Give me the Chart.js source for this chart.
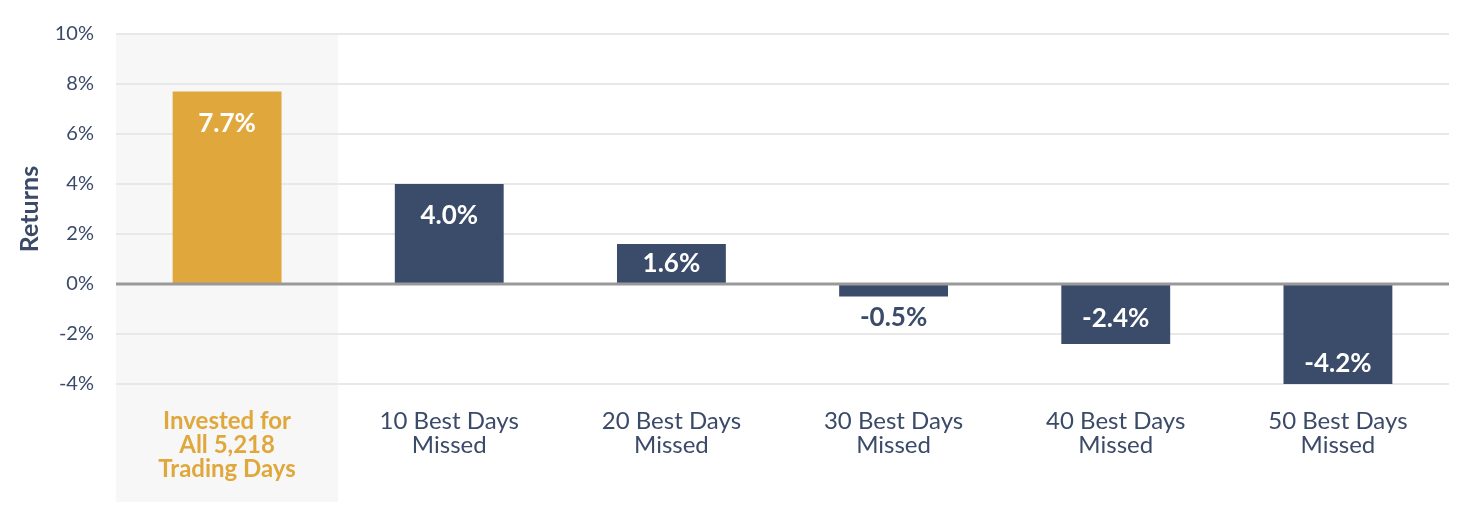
<!DOCTYPE html>
<html>
<head>
<meta charset="utf-8">
<script src="https://cdn.jsdelivr.net/npm/chart.js@4.4.0/dist/chart.umd.min.js"></script>
<style>
  body { margin: 0; background: #fff; }
  #wrap { width: 1463px; height: 522px; position: relative; }
</style>
</head>
<body>
<div id="wrap"><canvas id="myChart"></canvas></div>
<script>
const categories = [
  ['Invested for', 'All 5,218', 'Trading Days'],
  ['10 Best Days', 'Missed'],
  ['20 Best Days', 'Missed'],
  ['30 Best Days', 'Missed'],
  ['40 Best Days', 'Missed'],
  ['50 Best Days', 'Missed']
];
const returns = [7.7, 4.0, 1.6, -0.5, -2.4, -4.2];
const yTicks = [-4, -2, 0, 2, 4, 6, 8, 10];

const gold = '#e0a83c';
const navy = '#3a4c69';
const textNavy = '#3b4a68';
const fontFamily = 'Lato, "Open Sans", sans-serif';

// grey band behind the first category
const bandPlugin = {
  id: 'band',
  beforeDraw(chart) {
    const x = chart.scales.x;
    const ctx = chart.ctx;
    const half = (x.getPixelForTick(1) - x.getPixelForTick(0)) / 2;
    const left = x.getPixelForTick(0) - half;
    ctx.save();
    ctx.fillStyle = '#f7f7f7';
    ctx.fillRect(left, chart.chartArea.top, half * 2, chart.height - 20 - chart.chartArea.top);
    ctx.restore();
  }
};

// zero line on top of the bars + value labels
const labelPlugin = {
  id: 'valueLabels',
  afterDatasetsDraw(chart) {
    const ctx = chart.ctx;
    const y = chart.scales.y;
    const area = chart.chartArea;
    const zero = y.getPixelForValue(0);
    ctx.save();
    ctx.strokeStyle = '#999999';
    ctx.lineWidth = 3;
    ctx.beginPath();
    ctx.moveTo(area.left, zero);
    ctx.lineTo(area.right, zero);
    ctx.stroke();

    ctx.font = 'bold 26px ' + fontFamily;
    ctx.textAlign = 'center';
    ctx.textBaseline = 'middle';
    const meta = chart.getDatasetMeta(0);
    meta.data.forEach((bar, i) => {
      const v = returns[i];
      const top = Math.min(bar.y, bar.base);
      const bottom = Math.max(bar.y, bar.base);
      const h = bottom - top;
      let ty, color = '#ffffff';
      if (v >= 0) {
        ty = h > 64 ? top + 32 : top + h / 2;
      } else if (h > 50) {
        ty = bottom - 25;
      } else {
        ty = bottom + 21;
        color = navy;
      }
      ctx.fillStyle = color;
      ctx.fillText(v.toFixed(1) + '%', bar.x, ty);
    });
    ctx.restore();
  }
};

new Chart(document.getElementById('myChart'), {
  type: 'bar',
  data: {
    labels: categories,
    datasets: [{
      data: returns,
      backgroundColor: returns.map((v, i) => i === 0 ? gold : navy),
      borderWidth: 0,
      categoryPercentage: 1,
      barPercentage: 0.49
    }]
  },
  options: {
    responsive: true,
    maintainAspectRatio: false,
    animation: false,
    layout: { padding: { left: 0, right: 14, top: 22, bottom: 24 } },
    plugins: {
      legend: { display: false },
      tooltip: { enabled: false }
    },
    scales: {
      x: {
        grid: { display: false },
        border: { display: false },
        ticks: {
          padding: 17,
          maxRotation: 0,
          autoSkip: false,
          color: (c) => c.index === 0 ? gold : textNavy,
          font: (c) => ({ family: fontFamily, size: 24, weight: c.index === 0 ? 'bold' : 'normal', lineHeight: 1.0 })
        }
      },
      y: {
        min: -4,
        max: 10,
        afterBuildTicks: (axis) => { axis.ticks = yTicks.map(v => ({ value: v })); },
        afterFit: (axis) => { axis.width = 116; },
        grid: { color: '#e8e8e8', lineWidth: 2, drawTicks: false },
        border: { display: false },
        ticks: {
          padding: 22,
          color: textNavy,
          font: { family: fontFamily, size: 20 },
          callback: (v) => v + '%'
        },
        title: {
          display: true,
          text: 'Returns',
          color: textNavy,
          font: { family: fontFamily, size: 25, weight: 'bold' },
          padding: { top: 15, bottom: 0 }
        }
      }
    }
  },
  plugins: [bandPlugin, labelPlugin]
});
</script>
</body>
</html>
